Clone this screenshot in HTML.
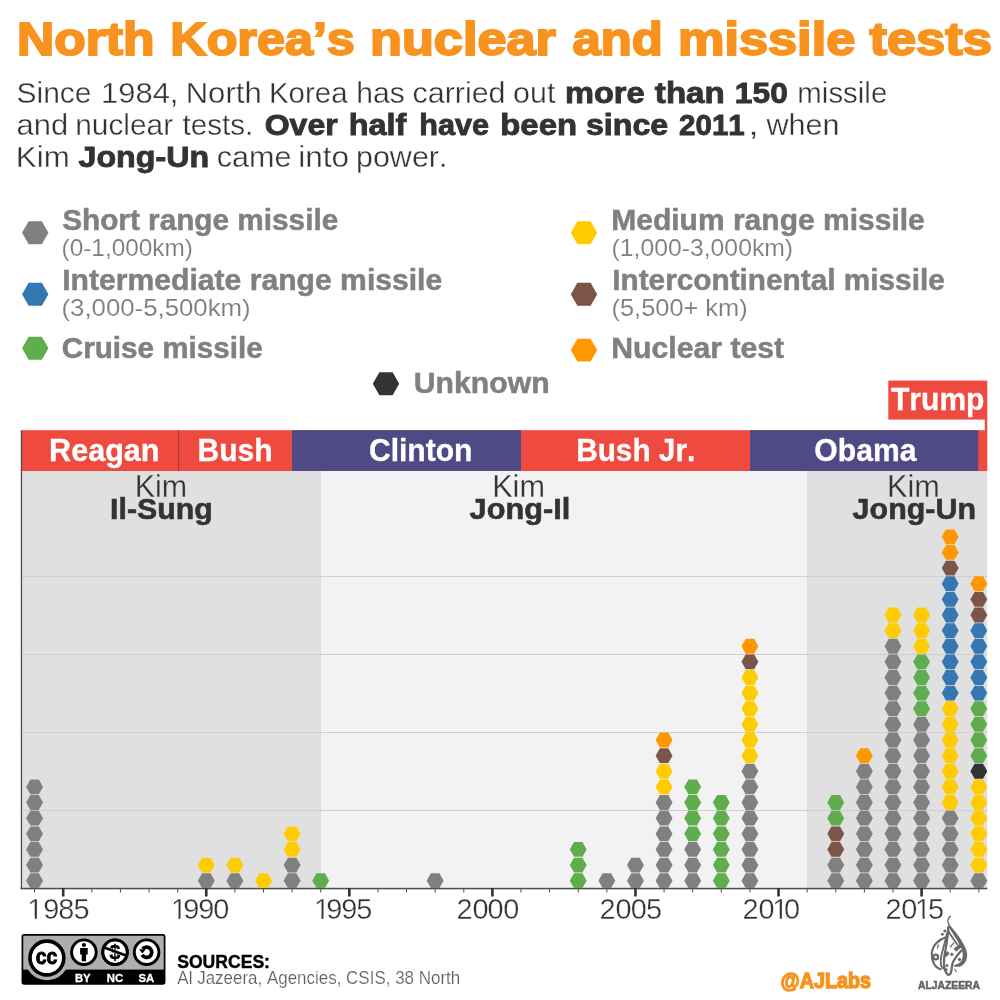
<!DOCTYPE html>
<html lang="en"><head><meta charset="utf-8"><title>North Korea's nuclear and missile tests</title>
<style>
html,body{margin:0;padding:0;background:#fff;}
body{width:1000px;height:1000px;overflow:hidden;}
svg{display:block;font-family:"Liberation Sans",Arial,Helvetica,sans-serif;font-kerning:none;}
text{white-space:pre;}
</style></head><body>
<svg width="1000" height="1000" viewBox="0 0 1000 1000">
<rect width="1000" height="1000" fill="#fff"/>

<text y="55.00" font-size="46.8" fill="#f7931e"><tspan x="16.95" font-weight="bold" stroke="#f7931e" stroke-width="2" textLength="137.55" lengthAdjust="spacingAndGlyphs">North</tspan> <tspan x="170.34" font-weight="bold" stroke="#f7931e" stroke-width="2" textLength="184.53" lengthAdjust="spacingAndGlyphs">Korea’s</tspan> <tspan x="370.06" font-weight="bold" stroke="#f7931e" stroke-width="2" textLength="185.83" lengthAdjust="spacingAndGlyphs">nuclear</tspan> <tspan x="572.61" font-weight="bold" stroke="#f7931e" stroke-width="2" textLength="90.23" lengthAdjust="spacingAndGlyphs">and</tspan> <tspan x="677.95" font-weight="bold" stroke="#f7931e" stroke-width="2" textLength="177.33" lengthAdjust="spacingAndGlyphs">missile</tspan> <tspan x="869.46" font-weight="bold" stroke="#f7931e" stroke-width="2" textLength="122.49" lengthAdjust="spacingAndGlyphs">tests</tspan></text>
<text y="103.00" font-size="30.3" fill="#333333"><tspan x="16.46" stroke="#ffffff" stroke-width="0.35" textLength="75.05" lengthAdjust="spacingAndGlyphs">Since</tspan> <tspan x="100.97" stroke="#ffffff" stroke-width="0.35" textLength="77.49" lengthAdjust="spacingAndGlyphs">1984,</tspan> <tspan x="185.67" stroke="#ffffff" stroke-width="0.35" textLength="76.02" lengthAdjust="spacingAndGlyphs">North</tspan> <tspan x="268.91" stroke="#ffffff" stroke-width="0.35" textLength="78.67" lengthAdjust="spacingAndGlyphs">Korea</tspan> <tspan x="356.24" stroke="#ffffff" stroke-width="0.35" textLength="48.52" lengthAdjust="spacingAndGlyphs">has</tspan> <tspan x="412.53" stroke="#ffffff" stroke-width="0.35" textLength="93.00" lengthAdjust="spacingAndGlyphs">carried</tspan> <tspan x="513.05" stroke="#ffffff" stroke-width="0.35" textLength="42.35" lengthAdjust="spacingAndGlyphs">out</tspan> <tspan x="565.00" font-weight="bold" stroke="#333333" stroke-width="0.9" textLength="79.66" lengthAdjust="spacingAndGlyphs">more</tspan> <tspan x="654.85" font-weight="bold" stroke="#333333" stroke-width="0.9" textLength="69.96" lengthAdjust="spacingAndGlyphs">than</tspan> <tspan x="734.85" font-weight="bold" stroke="#333333" stroke-width="0.9" textLength="53.00" lengthAdjust="spacingAndGlyphs">150</tspan> <tspan x="797.37" stroke="#ffffff" stroke-width="0.35" textLength="89.91" lengthAdjust="spacingAndGlyphs">missile</tspan></text>
<text y="135.00" font-size="30.3" fill="#333333"><tspan x="16.51" stroke="#ffffff" stroke-width="0.35" textLength="51.66" lengthAdjust="spacingAndGlyphs">and</tspan> <tspan x="75.24" stroke="#ffffff" stroke-width="0.35" textLength="97.93" lengthAdjust="spacingAndGlyphs">nuclear</tspan> <tspan x="182.38" stroke="#ffffff" stroke-width="0.35" textLength="71.01" lengthAdjust="spacingAndGlyphs">tests.</tspan> <tspan x="264.74" font-weight="bold" stroke="#333333" stroke-width="0.9" textLength="72.90" lengthAdjust="spacingAndGlyphs">Over</tspan> <tspan x="348.68" font-weight="bold" stroke="#333333" stroke-width="0.9" textLength="57.70" lengthAdjust="spacingAndGlyphs">half</tspan> <tspan x="419.31" font-weight="bold" stroke="#333333" stroke-width="0.9" textLength="69.78" lengthAdjust="spacingAndGlyphs">have</tspan> <tspan x="500.28" font-weight="bold" stroke="#333333" stroke-width="0.9" textLength="76.81" lengthAdjust="spacingAndGlyphs">been</tspan> <tspan x="585.92" font-weight="bold" stroke="#333333" stroke-width="0.9" textLength="82.33" lengthAdjust="spacingAndGlyphs">since</tspan> <tspan x="679.03" font-weight="bold" stroke="#333333" stroke-width="0.9" textLength="65.75" lengthAdjust="spacingAndGlyphs">2011</tspan> <tspan x="748.19" stroke="#ffffff" stroke-width="0.35" textLength="10.62" lengthAdjust="spacingAndGlyphs">,</tspan> <tspan x="766.47" stroke="#ffffff" stroke-width="0.35" textLength="73.09" lengthAdjust="spacingAndGlyphs">when</tspan></text>
<text y="167.00" font-size="30.3" fill="#333333"><tspan x="15.86" stroke="#ffffff" stroke-width="0.35" textLength="53.88" lengthAdjust="spacingAndGlyphs">Kim</tspan> <tspan x="78.56" font-weight="bold" stroke="#333333" stroke-width="0.9" textLength="130.58" lengthAdjust="spacingAndGlyphs">Jong-Un</tspan> <tspan x="216.73" stroke="#ffffff" stroke-width="0.35" textLength="74.71" lengthAdjust="spacingAndGlyphs">came</tspan> <tspan x="298.21" stroke="#ffffff" stroke-width="0.35" textLength="50.89" lengthAdjust="spacingAndGlyphs">into</tspan> <tspan x="355.96" stroke="#ffffff" stroke-width="0.35" textLength="91.50" lengthAdjust="spacingAndGlyphs">power.</tspan></text>
<polygon points="22.05,232.75 28.65,221.32 41.85,221.32 48.45,232.75 41.85,244.18 28.65,244.18" fill="#808080"/>
<polygon points="22.05,294.25 28.65,282.82 41.85,282.82 48.45,294.25 41.85,305.68 28.65,305.68" fill="#3577b0"/>
<polygon points="22.05,348.25 28.65,336.82 41.85,336.82 48.45,348.25 41.85,359.68 28.65,359.68" fill="#5fad4e"/>
<polygon points="372.80,383.75 379.40,372.32 392.60,372.32 399.20,383.75 392.60,395.18 379.40,395.18" fill="#333333"/>
<polygon points="570.80,232.75 577.40,221.32 590.60,221.32 597.20,232.75 590.60,244.18 577.40,244.18" fill="#ffcc00"/>
<polygon points="570.80,294.25 577.40,282.82 590.60,282.82 597.20,294.25 590.60,305.68 577.40,305.68" fill="#7a5548"/>
<polygon points="570.80,350.10 577.40,338.67 590.60,338.67 597.20,350.10 590.60,361.53 577.40,361.53" fill="#ff9800"/>
<text x="62.14" y="229.70" font-size="29.8" font-weight="bold" fill="#808080" stroke="#808080" stroke-width="0.5" stroke-linejoin="miter" textLength="276.12" lengthAdjust="spacingAndGlyphs">Short range missile</text>
<text x="61.63" y="255.50" font-size="23.6" fill="#7e7e7e" stroke="#ffffff" stroke-width="0.12" textLength="131.14" lengthAdjust="spacingAndGlyphs">(0-1,000km)</text>
<text x="62.23" y="290.40" font-size="29.8" font-weight="bold" fill="#808080" stroke="#808080" stroke-width="0.5" stroke-linejoin="miter" textLength="380.04" lengthAdjust="spacingAndGlyphs">Intermediate range missile</text>
<text x="61.54" y="315.75" font-size="23.6" fill="#7e7e7e" stroke="#ffffff" stroke-width="0.12" textLength="189.12" lengthAdjust="spacingAndGlyphs">(3,000-5,500km)</text>
<text x="61.78" y="357.80" font-size="29.8" font-weight="bold" fill="#808080" stroke="#808080" stroke-width="0.5" stroke-linejoin="miter" textLength="200.98" lengthAdjust="spacingAndGlyphs">Cruise missile</text>
<text x="413.74" y="393.40" font-size="29.8" font-weight="bold" fill="#808080" stroke="#808080" stroke-width="0.5" stroke-linejoin="miter" textLength="135.89" lengthAdjust="spacingAndGlyphs">Unknown</text>
<text x="611.24" y="229.70" font-size="29.8" font-weight="bold" fill="#808080" stroke="#808080" stroke-width="0.5" stroke-linejoin="miter" textLength="313.53" lengthAdjust="spacingAndGlyphs">Medium range missile</text>
<text x="611.61" y="255.50" font-size="23.6" fill="#7e7e7e" stroke="#ffffff" stroke-width="0.12" textLength="181.49" lengthAdjust="spacingAndGlyphs">(1,000-3,000km)</text>
<text x="612.26" y="290.40" font-size="29.8" font-weight="bold" fill="#808080" stroke="#808080" stroke-width="0.5" stroke-linejoin="miter" textLength="332.51" lengthAdjust="spacingAndGlyphs">Intercontinental missile</text>
<text x="611.57" y="315.75" font-size="23.6" fill="#7e7e7e" stroke="#ffffff" stroke-width="0.12" textLength="136.07" lengthAdjust="spacingAndGlyphs">(5,500+ km)</text>
<text x="611.23" y="357.80" font-size="29.8" font-weight="bold" fill="#808080" stroke="#808080" stroke-width="0.5" stroke-linejoin="miter" textLength="172.89" lengthAdjust="spacingAndGlyphs">Nuclear test</text>
<rect x="21.5" y="471" width="965.8" height="417.5" fill="#e0e0e0"/>
<rect x="321" y="471" width="486" height="417.5" fill="#f2f2f2"/>
<rect x="21.5" y="576" width="965.8" height="1" fill="#cecece"/>
<rect x="21.5" y="654" width="965.8" height="1" fill="#cecece"/>
<rect x="21.5" y="732" width="965.8" height="1" fill="#cecece"/>
<rect x="21.5" y="810" width="965.8" height="1" fill="#cecece"/>
<rect x="21.5" y="430.2" width="965.8" height="40.8" fill="#ef4a40"/>
<rect x="292" y="430.2" width="229" height="40.8" fill="#4f4a85"/>
<rect x="750" y="430.2" width="228.2" height="40.8" fill="#4f4a85"/>
<rect x="178.1" y="430.2" width="1" height="41" fill="#b0362f"/>
<text x="49.10" y="460.60" font-size="31" font-weight="bold" fill="#ffffff" stroke="#ffffff" stroke-width="0.3" stroke-linejoin="miter" textLength="110.44" lengthAdjust="spacingAndGlyphs">Reagan</text>
<text x="197.54" y="460.60" font-size="31" font-weight="bold" fill="#ffffff" stroke="#ffffff" stroke-width="0.3" stroke-linejoin="miter" textLength="74.97" lengthAdjust="spacingAndGlyphs">Bush</text>
<text x="368.92" y="460.60" font-size="31" font-weight="bold" fill="#ffffff" stroke="#ffffff" stroke-width="0.3" stroke-linejoin="miter" textLength="103.60" lengthAdjust="spacingAndGlyphs">Clinton</text>
<text x="576.16" y="460.60" font-size="31" font-weight="bold" fill="#ffffff" stroke="#ffffff" stroke-width="0.3" stroke-linejoin="miter" textLength="119.14" lengthAdjust="spacingAndGlyphs">Bush Jr.</text>
<text x="814.31" y="460.60" font-size="31" font-weight="bold" fill="#ffffff" stroke="#ffffff" stroke-width="0.3" stroke-linejoin="miter" textLength="102.14" lengthAdjust="spacingAndGlyphs">Obama</text>
<rect x="888.3" y="380.6" width="99" height="39" fill="#ef4a40"/>
<rect x="984.8" y="419" width="2.5" height="12" fill="#ef4a40"/>
<text x="891.01" y="410.00" font-size="31" font-weight="bold" fill="#ffffff" stroke="#ffffff" stroke-width="0.3" stroke-linejoin="miter" textLength="93.47" lengthAdjust="spacingAndGlyphs">Trump</text>
<text x="134.75" y="496.80" font-size="31" fill="#333333" stroke="#e0e0e0" stroke-width="0.3" textLength="52.40" lengthAdjust="spacingAndGlyphs">Kim</text>
<text x="110.07" y="519.30" font-size="30" font-weight="bold" fill="#333333" stroke="#333333" stroke-width="0.6" stroke-linejoin="miter" textLength="102.65" lengthAdjust="spacingAndGlyphs">Il-Sung</text>
<text x="492.13" y="496.80" font-size="31" fill="#333333" stroke="#f2f2f2" stroke-width="0.3" textLength="52.84" lengthAdjust="spacingAndGlyphs">Kim</text>
<text x="469.64" y="519.30" font-size="30" font-weight="bold" fill="#333333" stroke="#333333" stroke-width="0.6" stroke-linejoin="miter" textLength="100.64" lengthAdjust="spacingAndGlyphs">Jong-Il</text>
<text x="886.93" y="496.80" font-size="31" fill="#333333" stroke="#e0e0e0" stroke-width="0.3" textLength="52.84" lengthAdjust="spacingAndGlyphs">Kim</text>
<text x="852.64" y="519.30" font-size="30" font-weight="bold" fill="#333333" stroke="#333333" stroke-width="0.6" stroke-linejoin="miter" textLength="123.35" lengthAdjust="spacingAndGlyphs">Jong-Un</text>
<rect x="20.8" y="430.3" width="1.3" height="459" fill="#4d4d4d"/>
<rect x="20.7" y="887.8" width="966.6" height="1.5" fill="#4d4d4d"/>
<rect x="34.09" y="888" width="1" height="4.5" fill="#4d4d4d"/>
<rect x="61.90" y="888" width="2.6" height="8.5" fill="#333"/>
<rect x="91.32" y="888" width="1" height="4.5" fill="#4d4d4d"/>
<rect x="119.93" y="888" width="1" height="4.5" fill="#4d4d4d"/>
<rect x="148.54" y="888" width="1" height="4.5" fill="#4d4d4d"/>
<rect x="177.16" y="888" width="1" height="4.5" fill="#4d4d4d"/>
<rect x="204.97" y="888" width="2.6" height="8.5" fill="#333"/>
<rect x="234.38" y="888" width="1" height="4.5" fill="#4d4d4d"/>
<rect x="262.99" y="888" width="1" height="4.5" fill="#4d4d4d"/>
<rect x="291.61" y="888" width="1" height="4.5" fill="#4d4d4d"/>
<rect x="320.22" y="888" width="1" height="4.5" fill="#4d4d4d"/>
<rect x="348.03" y="888" width="2.6" height="8.5" fill="#333"/>
<rect x="377.45" y="888" width="1" height="4.5" fill="#4d4d4d"/>
<rect x="406.06" y="888" width="1" height="4.5" fill="#4d4d4d"/>
<rect x="434.67" y="888" width="1" height="4.5" fill="#4d4d4d"/>
<rect x="463.28" y="888" width="1" height="4.5" fill="#4d4d4d"/>
<rect x="491.10" y="888" width="2.6" height="8.5" fill="#333"/>
<rect x="520.51" y="888" width="1" height="4.5" fill="#4d4d4d"/>
<rect x="549.12" y="888" width="1" height="4.5" fill="#4d4d4d"/>
<rect x="577.74" y="888" width="1" height="4.5" fill="#4d4d4d"/>
<rect x="606.35" y="888" width="1" height="4.5" fill="#4d4d4d"/>
<rect x="634.16" y="888" width="2.6" height="8.5" fill="#333"/>
<rect x="663.58" y="888" width="1" height="4.5" fill="#4d4d4d"/>
<rect x="692.19" y="888" width="1" height="4.5" fill="#4d4d4d"/>
<rect x="720.80" y="888" width="1" height="4.5" fill="#4d4d4d"/>
<rect x="749.42" y="888" width="1" height="4.5" fill="#4d4d4d"/>
<rect x="777.23" y="888" width="2.6" height="8.5" fill="#333"/>
<rect x="806.64" y="888" width="1" height="4.5" fill="#4d4d4d"/>
<rect x="835.25" y="888" width="1" height="4.5" fill="#4d4d4d"/>
<rect x="863.87" y="888" width="1" height="4.5" fill="#4d4d4d"/>
<rect x="892.48" y="888" width="1" height="4.5" fill="#4d4d4d"/>
<rect x="920.29" y="888" width="2.6" height="8.5" fill="#333"/>
<rect x="949.71" y="888" width="1" height="4.5" fill="#4d4d4d"/>
<rect x="978.32" y="888" width="1" height="4.5" fill="#4d4d4d"/>
<text x="27.3 43.3 58.2 73.5" y="918.8" font-size="28.9" fill="#333" stroke="#fff" stroke-width="0.35">1985</text>
<rect x="28.88" y="916.2" width="5.87" height="3.4" fill="#fff"/>
<rect x="36.90" y="916.2" width="5.64" height="3.4" fill="#fff"/>
<text x="170.9 183.2 198.2 213.2" y="918.8" font-size="28.9" fill="#333" stroke="#fff" stroke-width="0.35">1990</text>
<rect x="172.48" y="916.2" width="5.87" height="3.4" fill="#fff"/>
<rect x="180.50" y="916.2" width="5.30" height="3.4" fill="#fff"/>
<text x="313.9 326.2 341.2 356.2" y="918.8" font-size="28.9" fill="#333" stroke="#fff" stroke-width="0.35">1995</text>
<rect x="315.48" y="916.2" width="5.87" height="3.4" fill="#fff"/>
<rect x="323.50" y="916.2" width="5.30" height="3.4" fill="#fff"/>
<text x="456.4 472.5 487.6 503.2" y="918.8" font-size="28.9" fill="#333" stroke="#fff" stroke-width="0.35">2000</text>
<text x="599.4 615.5 630.8 646.0" y="918.8" font-size="28.9" fill="#333" stroke="#fff" stroke-width="0.35">2005</text>
<text x="742.5 758.5 772.3 783.9" y="918.8" font-size="28.9" fill="#333" stroke="#fff" stroke-width="0.35">2010</text>
<rect x="773.88" y="916.2" width="5.87" height="3.4" fill="#fff"/>
<rect x="781.90" y="916.2" width="4.70" height="3.4" fill="#fff"/>
<text x="885.4 901.3 915.1 928.0" y="918.8" font-size="28.9" fill="#333" stroke="#fff" stroke-width="0.35">2015</text>
<rect x="916.68" y="916.2" width="5.87" height="3.4" fill="#fff"/>
<rect x="924.70" y="916.2" width="5.64" height="3.4" fill="#fff"/>
<polygon points="26.14,880.68 30.37,873.26 38.82,873.26 43.04,880.68 38.82,888.10 30.37,888.10" fill="#808080"/>
<polygon points="26.14,865.05 30.37,857.63 38.82,857.63 43.04,865.05 38.82,872.47 30.37,872.47" fill="#808080"/>
<polygon points="26.14,849.42 30.37,842.00 38.82,842.00 43.04,849.42 38.82,856.84 30.37,856.84" fill="#808080"/>
<polygon points="26.14,833.79 30.37,826.38 38.82,826.38 43.04,833.79 38.82,841.21 30.37,841.21" fill="#808080"/>
<polygon points="26.14,818.16 30.37,810.75 38.82,810.75 43.04,818.16 38.82,825.58 30.37,825.58" fill="#808080"/>
<polygon points="26.14,802.53 30.37,795.12 38.82,795.12 43.04,802.53 38.82,809.95 30.37,809.95" fill="#808080"/>
<polygon points="26.14,786.90 30.37,779.49 38.82,779.49 43.04,786.90 38.82,794.32 30.37,794.32" fill="#808080"/>
<polygon points="197.82,880.68 202.04,873.26 210.49,873.26 214.72,880.68 210.49,888.10 202.04,888.10" fill="#808080"/>
<polygon points="197.82,865.05 202.04,857.63 210.49,857.63 214.72,865.05 210.49,872.47 202.04,872.47" fill="#ffcc00"/>
<polygon points="226.43,880.68 230.66,873.26 239.11,873.26 243.33,880.68 239.11,888.10 230.66,888.10" fill="#808080"/>
<polygon points="226.43,865.05 230.66,857.63 239.11,857.63 243.33,865.05 239.11,872.47 230.66,872.47" fill="#ffcc00"/>
<polygon points="255.04,880.68 259.27,873.26 267.72,873.26 271.94,880.68 267.72,888.10 259.27,888.10" fill="#ffcc00"/>
<polygon points="283.66,880.68 287.88,873.26 296.33,873.26 300.56,880.68 296.33,888.10 287.88,888.10" fill="#808080"/>
<polygon points="283.66,865.05 287.88,857.63 296.33,857.63 300.56,865.05 296.33,872.47 287.88,872.47" fill="#808080"/>
<polygon points="283.66,849.42 287.88,842.00 296.33,842.00 300.56,849.42 296.33,856.84 287.88,856.84" fill="#ffcc00"/>
<polygon points="283.66,833.79 287.88,826.38 296.33,826.38 300.56,833.79 296.33,841.21 287.88,841.21" fill="#ffcc00"/>
<polygon points="312.27,880.68 316.50,873.26 324.95,873.26 329.17,880.68 324.95,888.10 316.50,888.10" fill="#5fad4e"/>
<polygon points="426.72,880.68 430.95,873.26 439.40,873.26 443.62,880.68 439.40,888.10 430.95,888.10" fill="#808080"/>
<polygon points="569.79,880.68 574.01,873.26 582.46,873.26 586.69,880.68 582.46,888.10 574.01,888.10" fill="#5fad4e"/>
<polygon points="569.79,865.05 574.01,857.63 582.46,857.63 586.69,865.05 582.46,872.47 574.01,872.47" fill="#5fad4e"/>
<polygon points="569.79,849.42 574.01,842.00 582.46,842.00 586.69,849.42 582.46,856.84 574.01,856.84" fill="#5fad4e"/>
<polygon points="598.40,880.68 602.62,873.26 611.08,873.26 615.30,880.68 611.08,888.10 602.62,888.10" fill="#808080"/>
<polygon points="627.01,880.68 631.24,873.26 639.69,873.26 643.91,880.68 639.69,888.10 631.24,888.10" fill="#808080"/>
<polygon points="627.01,865.05 631.24,857.63 639.69,857.63 643.91,865.05 639.69,872.47 631.24,872.47" fill="#808080"/>
<polygon points="655.63,880.68 659.85,873.26 668.30,873.26 672.53,880.68 668.30,888.10 659.85,888.10" fill="#808080"/>
<polygon points="655.63,865.05 659.85,857.63 668.30,857.63 672.53,865.05 668.30,872.47 659.85,872.47" fill="#808080"/>
<polygon points="655.63,849.42 659.85,842.00 668.30,842.00 672.53,849.42 668.30,856.84 659.85,856.84" fill="#808080"/>
<polygon points="655.63,833.79 659.85,826.38 668.30,826.38 672.53,833.79 668.30,841.21 659.85,841.21" fill="#808080"/>
<polygon points="655.63,818.16 659.85,810.75 668.30,810.75 672.53,818.16 668.30,825.58 659.85,825.58" fill="#808080"/>
<polygon points="655.63,802.53 659.85,795.12 668.30,795.12 672.53,802.53 668.30,809.95 659.85,809.95" fill="#808080"/>
<polygon points="655.63,786.90 659.85,779.49 668.30,779.49 672.53,786.90 668.30,794.32 659.85,794.32" fill="#ffcc00"/>
<polygon points="655.63,771.27 659.85,763.86 668.30,763.86 672.53,771.27 668.30,778.69 659.85,778.69" fill="#ffcc00"/>
<polygon points="655.63,755.64 659.85,748.23 668.30,748.23 672.53,755.64 668.30,763.06 659.85,763.06" fill="#7a5548"/>
<polygon points="655.63,740.01 659.85,732.59 668.30,732.59 672.53,740.01 668.30,747.43 659.85,747.43" fill="#ff9800"/>
<polygon points="684.24,880.68 688.46,873.26 696.91,873.26 701.14,880.68 696.91,888.10 688.46,888.10" fill="#808080"/>
<polygon points="684.24,865.05 688.46,857.63 696.91,857.63 701.14,865.05 696.91,872.47 688.46,872.47" fill="#808080"/>
<polygon points="684.24,849.42 688.46,842.00 696.91,842.00 701.14,849.42 696.91,856.84 688.46,856.84" fill="#808080"/>
<polygon points="684.24,833.79 688.46,826.38 696.91,826.38 701.14,833.79 696.91,841.21 688.46,841.21" fill="#5fad4e"/>
<polygon points="684.24,818.16 688.46,810.75 696.91,810.75 701.14,818.16 696.91,825.58 688.46,825.58" fill="#5fad4e"/>
<polygon points="684.24,802.53 688.46,795.12 696.91,795.12 701.14,802.53 696.91,809.95 688.46,809.95" fill="#5fad4e"/>
<polygon points="684.24,786.90 688.46,779.49 696.91,779.49 701.14,786.90 696.91,794.32 688.46,794.32" fill="#5fad4e"/>
<polygon points="712.85,880.68 717.08,873.26 725.53,873.26 729.75,880.68 725.53,888.10 717.08,888.10" fill="#5fad4e"/>
<polygon points="712.85,865.05 717.08,857.63 725.53,857.63 729.75,865.05 725.53,872.47 717.08,872.47" fill="#5fad4e"/>
<polygon points="712.85,849.42 717.08,842.00 725.53,842.00 729.75,849.42 725.53,856.84 717.08,856.84" fill="#5fad4e"/>
<polygon points="712.85,833.79 717.08,826.38 725.53,826.38 729.75,833.79 725.53,841.21 717.08,841.21" fill="#5fad4e"/>
<polygon points="712.85,818.16 717.08,810.75 725.53,810.75 729.75,818.16 725.53,825.58 717.08,825.58" fill="#5fad4e"/>
<polygon points="712.85,802.53 717.08,795.12 725.53,795.12 729.75,802.53 725.53,809.95 717.08,809.95" fill="#5fad4e"/>
<polygon points="741.47,880.68 745.69,873.26 754.14,873.26 758.37,880.68 754.14,888.10 745.69,888.10" fill="#808080"/>
<polygon points="741.47,865.05 745.69,857.63 754.14,857.63 758.37,865.05 754.14,872.47 745.69,872.47" fill="#808080"/>
<polygon points="741.47,849.42 745.69,842.00 754.14,842.00 758.37,849.42 754.14,856.84 745.69,856.84" fill="#808080"/>
<polygon points="741.47,833.79 745.69,826.38 754.14,826.38 758.37,833.79 754.14,841.21 745.69,841.21" fill="#808080"/>
<polygon points="741.47,818.16 745.69,810.75 754.14,810.75 758.37,818.16 754.14,825.58 745.69,825.58" fill="#808080"/>
<polygon points="741.47,802.53 745.69,795.12 754.14,795.12 758.37,802.53 754.14,809.95 745.69,809.95" fill="#808080"/>
<polygon points="741.47,786.90 745.69,779.49 754.14,779.49 758.37,786.90 754.14,794.32 745.69,794.32" fill="#808080"/>
<polygon points="741.47,771.27 745.69,763.86 754.14,763.86 758.37,771.27 754.14,778.69 745.69,778.69" fill="#808080"/>
<polygon points="741.47,755.64 745.69,748.23 754.14,748.23 758.37,755.64 754.14,763.06 745.69,763.06" fill="#ffcc00"/>
<polygon points="741.47,740.01 745.69,732.59 754.14,732.59 758.37,740.01 754.14,747.43 745.69,747.43" fill="#ffcc00"/>
<polygon points="741.47,724.38 745.69,716.97 754.14,716.97 758.37,724.38 754.14,731.80 745.69,731.80" fill="#ffcc00"/>
<polygon points="741.47,708.75 745.69,701.33 754.14,701.33 758.37,708.75 754.14,716.17 745.69,716.17" fill="#ffcc00"/>
<polygon points="741.47,693.12 745.69,685.71 754.14,685.71 758.37,693.12 754.14,700.54 745.69,700.54" fill="#ffcc00"/>
<polygon points="741.47,677.49 745.69,670.07 754.14,670.07 758.37,677.49 754.14,684.91 745.69,684.91" fill="#ffcc00"/>
<polygon points="741.47,661.86 745.69,654.44 754.14,654.44 758.37,661.86 754.14,669.28 745.69,669.28" fill="#7a5548"/>
<polygon points="741.47,646.23 745.69,638.81 754.14,638.81 758.37,646.23 754.14,653.65 745.69,653.65" fill="#ff9800"/>
<polygon points="827.30,880.68 831.53,873.26 839.98,873.26 844.20,880.68 839.98,888.10 831.53,888.10" fill="#808080"/>
<polygon points="827.30,865.05 831.53,857.63 839.98,857.63 844.20,865.05 839.98,872.47 831.53,872.47" fill="#808080"/>
<polygon points="827.30,849.42 831.53,842.00 839.98,842.00 844.20,849.42 839.98,856.84 831.53,856.84" fill="#7a5548"/>
<polygon points="827.30,833.79 831.53,826.38 839.98,826.38 844.20,833.79 839.98,841.21 831.53,841.21" fill="#7a5548"/>
<polygon points="827.30,818.16 831.53,810.75 839.98,810.75 844.20,818.16 839.98,825.58 831.53,825.58" fill="#5fad4e"/>
<polygon points="827.30,802.53 831.53,795.12 839.98,795.12 844.20,802.53 839.98,809.95 831.53,809.95" fill="#5fad4e"/>
<polygon points="855.92,880.68 860.14,873.26 868.59,873.26 872.82,880.68 868.59,888.10 860.14,888.10" fill="#808080"/>
<polygon points="855.92,865.05 860.14,857.63 868.59,857.63 872.82,865.05 868.59,872.47 860.14,872.47" fill="#808080"/>
<polygon points="855.92,849.42 860.14,842.00 868.59,842.00 872.82,849.42 868.59,856.84 860.14,856.84" fill="#808080"/>
<polygon points="855.92,833.79 860.14,826.38 868.59,826.38 872.82,833.79 868.59,841.21 860.14,841.21" fill="#808080"/>
<polygon points="855.92,818.16 860.14,810.75 868.59,810.75 872.82,818.16 868.59,825.58 860.14,825.58" fill="#808080"/>
<polygon points="855.92,802.53 860.14,795.12 868.59,795.12 872.82,802.53 868.59,809.95 860.14,809.95" fill="#808080"/>
<polygon points="855.92,786.90 860.14,779.49 868.59,779.49 872.82,786.90 868.59,794.32 860.14,794.32" fill="#808080"/>
<polygon points="855.92,771.27 860.14,763.86 868.59,763.86 872.82,771.27 868.59,778.69 860.14,778.69" fill="#808080"/>
<polygon points="855.92,755.64 860.14,748.23 868.59,748.23 872.82,755.64 868.59,763.06 860.14,763.06" fill="#ff9800"/>
<polygon points="884.53,880.68 888.75,873.26 897.21,873.26 901.43,880.68 897.21,888.10 888.75,888.10" fill="#808080"/>
<polygon points="884.53,865.05 888.75,857.63 897.21,857.63 901.43,865.05 897.21,872.47 888.75,872.47" fill="#808080"/>
<polygon points="884.53,849.42 888.75,842.00 897.21,842.00 901.43,849.42 897.21,856.84 888.75,856.84" fill="#808080"/>
<polygon points="884.53,833.79 888.75,826.38 897.21,826.38 901.43,833.79 897.21,841.21 888.75,841.21" fill="#808080"/>
<polygon points="884.53,818.16 888.75,810.75 897.21,810.75 901.43,818.16 897.21,825.58 888.75,825.58" fill="#808080"/>
<polygon points="884.53,802.53 888.75,795.12 897.21,795.12 901.43,802.53 897.21,809.95 888.75,809.95" fill="#808080"/>
<polygon points="884.53,786.90 888.75,779.49 897.21,779.49 901.43,786.90 897.21,794.32 888.75,794.32" fill="#808080"/>
<polygon points="884.53,771.27 888.75,763.86 897.21,763.86 901.43,771.27 897.21,778.69 888.75,778.69" fill="#808080"/>
<polygon points="884.53,755.64 888.75,748.23 897.21,748.23 901.43,755.64 897.21,763.06 888.75,763.06" fill="#808080"/>
<polygon points="884.53,740.01 888.75,732.59 897.21,732.59 901.43,740.01 897.21,747.43 888.75,747.43" fill="#808080"/>
<polygon points="884.53,724.38 888.75,716.97 897.21,716.97 901.43,724.38 897.21,731.80 888.75,731.80" fill="#808080"/>
<polygon points="884.53,708.75 888.75,701.33 897.21,701.33 901.43,708.75 897.21,716.17 888.75,716.17" fill="#808080"/>
<polygon points="884.53,693.12 888.75,685.71 897.21,685.71 901.43,693.12 897.21,700.54 888.75,700.54" fill="#808080"/>
<polygon points="884.53,677.49 888.75,670.07 897.21,670.07 901.43,677.49 897.21,684.91 888.75,684.91" fill="#808080"/>
<polygon points="884.53,661.86 888.75,654.44 897.21,654.44 901.43,661.86 897.21,669.28 888.75,669.28" fill="#808080"/>
<polygon points="884.53,646.23 888.75,638.81 897.21,638.81 901.43,646.23 897.21,653.65 888.75,653.65" fill="#808080"/>
<polygon points="884.53,630.60 888.75,623.18 897.21,623.18 901.43,630.60 897.21,638.02 888.75,638.02" fill="#ffcc00"/>
<polygon points="884.53,614.97 888.75,607.55 897.21,607.55 901.43,614.97 897.21,622.39 888.75,622.39" fill="#ffcc00"/>
<polygon points="913.14,880.68 917.37,873.26 925.82,873.26 930.04,880.68 925.82,888.10 917.37,888.10" fill="#808080"/>
<polygon points="913.14,865.05 917.37,857.63 925.82,857.63 930.04,865.05 925.82,872.47 917.37,872.47" fill="#808080"/>
<polygon points="913.14,849.42 917.37,842.00 925.82,842.00 930.04,849.42 925.82,856.84 917.37,856.84" fill="#808080"/>
<polygon points="913.14,833.79 917.37,826.38 925.82,826.38 930.04,833.79 925.82,841.21 917.37,841.21" fill="#808080"/>
<polygon points="913.14,818.16 917.37,810.75 925.82,810.75 930.04,818.16 925.82,825.58 917.37,825.58" fill="#808080"/>
<polygon points="913.14,802.53 917.37,795.12 925.82,795.12 930.04,802.53 925.82,809.95 917.37,809.95" fill="#808080"/>
<polygon points="913.14,786.90 917.37,779.49 925.82,779.49 930.04,786.90 925.82,794.32 917.37,794.32" fill="#808080"/>
<polygon points="913.14,771.27 917.37,763.86 925.82,763.86 930.04,771.27 925.82,778.69 917.37,778.69" fill="#808080"/>
<polygon points="913.14,755.64 917.37,748.23 925.82,748.23 930.04,755.64 925.82,763.06 917.37,763.06" fill="#808080"/>
<polygon points="913.14,740.01 917.37,732.59 925.82,732.59 930.04,740.01 925.82,747.43 917.37,747.43" fill="#808080"/>
<polygon points="913.14,724.38 917.37,716.97 925.82,716.97 930.04,724.38 925.82,731.80 917.37,731.80" fill="#808080"/>
<polygon points="913.14,708.75 917.37,701.33 925.82,701.33 930.04,708.75 925.82,716.17 917.37,716.17" fill="#5fad4e"/>
<polygon points="913.14,693.12 917.37,685.71 925.82,685.71 930.04,693.12 925.82,700.54 917.37,700.54" fill="#5fad4e"/>
<polygon points="913.14,677.49 917.37,670.07 925.82,670.07 930.04,677.49 925.82,684.91 917.37,684.91" fill="#5fad4e"/>
<polygon points="913.14,661.86 917.37,654.44 925.82,654.44 930.04,661.86 925.82,669.28 917.37,669.28" fill="#5fad4e"/>
<polygon points="913.14,646.23 917.37,638.81 925.82,638.81 930.04,646.23 925.82,653.65 917.37,653.65" fill="#ffcc00"/>
<polygon points="913.14,630.60 917.37,623.18 925.82,623.18 930.04,630.60 925.82,638.02 917.37,638.02" fill="#ffcc00"/>
<polygon points="913.14,614.97 917.37,607.55 925.82,607.55 930.04,614.97 925.82,622.39 917.37,622.39" fill="#ffcc00"/>
<polygon points="941.76,880.68 945.98,873.26 954.43,873.26 958.66,880.68 954.43,888.10 945.98,888.10" fill="#808080"/>
<polygon points="941.76,865.05 945.98,857.63 954.43,857.63 958.66,865.05 954.43,872.47 945.98,872.47" fill="#808080"/>
<polygon points="941.76,849.42 945.98,842.00 954.43,842.00 958.66,849.42 954.43,856.84 945.98,856.84" fill="#808080"/>
<polygon points="941.76,833.79 945.98,826.38 954.43,826.38 958.66,833.79 954.43,841.21 945.98,841.21" fill="#808080"/>
<polygon points="941.76,818.16 945.98,810.75 954.43,810.75 958.66,818.16 954.43,825.58 945.98,825.58" fill="#808080"/>
<polygon points="941.76,802.53 945.98,795.12 954.43,795.12 958.66,802.53 954.43,809.95 945.98,809.95" fill="#ffcc00"/>
<polygon points="941.76,786.90 945.98,779.49 954.43,779.49 958.66,786.90 954.43,794.32 945.98,794.32" fill="#ffcc00"/>
<polygon points="941.76,771.27 945.98,763.86 954.43,763.86 958.66,771.27 954.43,778.69 945.98,778.69" fill="#ffcc00"/>
<polygon points="941.76,755.64 945.98,748.23 954.43,748.23 958.66,755.64 954.43,763.06 945.98,763.06" fill="#ffcc00"/>
<polygon points="941.76,740.01 945.98,732.59 954.43,732.59 958.66,740.01 954.43,747.43 945.98,747.43" fill="#ffcc00"/>
<polygon points="941.76,724.38 945.98,716.97 954.43,716.97 958.66,724.38 954.43,731.80 945.98,731.80" fill="#ffcc00"/>
<polygon points="941.76,708.75 945.98,701.33 954.43,701.33 958.66,708.75 954.43,716.17 945.98,716.17" fill="#ffcc00"/>
<polygon points="941.76,693.12 945.98,685.71 954.43,685.71 958.66,693.12 954.43,700.54 945.98,700.54" fill="#3577b0"/>
<polygon points="941.76,677.49 945.98,670.07 954.43,670.07 958.66,677.49 954.43,684.91 945.98,684.91" fill="#3577b0"/>
<polygon points="941.76,661.86 945.98,654.44 954.43,654.44 958.66,661.86 954.43,669.28 945.98,669.28" fill="#3577b0"/>
<polygon points="941.76,646.23 945.98,638.81 954.43,638.81 958.66,646.23 954.43,653.65 945.98,653.65" fill="#3577b0"/>
<polygon points="941.76,630.60 945.98,623.18 954.43,623.18 958.66,630.60 954.43,638.02 945.98,638.02" fill="#3577b0"/>
<polygon points="941.76,614.97 945.98,607.55 954.43,607.55 958.66,614.97 954.43,622.39 945.98,622.39" fill="#3577b0"/>
<polygon points="941.76,599.34 945.98,591.92 954.43,591.92 958.66,599.34 954.43,606.76 945.98,606.76" fill="#3577b0"/>
<polygon points="941.76,583.71 945.98,576.29 954.43,576.29 958.66,583.71 954.43,591.13 945.98,591.13" fill="#3577b0"/>
<polygon points="941.76,568.08 945.98,560.66 954.43,560.66 958.66,568.08 954.43,575.50 945.98,575.50" fill="#7a5548"/>
<polygon points="941.76,552.45 945.98,545.03 954.43,545.03 958.66,552.45 954.43,559.87 945.98,559.87" fill="#ff9800"/>
<polygon points="941.76,536.82 945.98,529.40 954.43,529.40 958.66,536.82 954.43,544.24 945.98,544.24" fill="#ff9800"/>
<polygon points="970.37,880.68 974.59,873.26 983.04,873.26 987.27,880.68 983.04,888.10 974.59,888.10" fill="#808080"/>
<polygon points="970.37,865.05 974.59,857.63 983.04,857.63 987.27,865.05 983.04,872.47 974.59,872.47" fill="#ffcc00"/>
<polygon points="970.37,849.42 974.59,842.00 983.04,842.00 987.27,849.42 983.04,856.84 974.59,856.84" fill="#ffcc00"/>
<polygon points="970.37,833.79 974.59,826.38 983.04,826.38 987.27,833.79 983.04,841.21 974.59,841.21" fill="#ffcc00"/>
<polygon points="970.37,818.16 974.59,810.75 983.04,810.75 987.27,818.16 983.04,825.58 974.59,825.58" fill="#ffcc00"/>
<polygon points="970.37,802.53 974.59,795.12 983.04,795.12 987.27,802.53 983.04,809.95 974.59,809.95" fill="#ffcc00"/>
<polygon points="970.37,786.90 974.59,779.49 983.04,779.49 987.27,786.90 983.04,794.32 974.59,794.32" fill="#ffcc00"/>
<polygon points="970.37,771.27 974.59,763.86 983.04,763.86 987.27,771.27 983.04,778.69 974.59,778.69" fill="#333333"/>
<polygon points="970.37,755.64 974.59,748.23 983.04,748.23 987.27,755.64 983.04,763.06 974.59,763.06" fill="#5fad4e"/>
<polygon points="970.37,740.01 974.59,732.59 983.04,732.59 987.27,740.01 983.04,747.43 974.59,747.43" fill="#5fad4e"/>
<polygon points="970.37,724.38 974.59,716.97 983.04,716.97 987.27,724.38 983.04,731.80 974.59,731.80" fill="#5fad4e"/>
<polygon points="970.37,708.75 974.59,701.33 983.04,701.33 987.27,708.75 983.04,716.17 974.59,716.17" fill="#5fad4e"/>
<polygon points="970.37,693.12 974.59,685.71 983.04,685.71 987.27,693.12 983.04,700.54 974.59,700.54" fill="#3577b0"/>
<polygon points="970.37,677.49 974.59,670.07 983.04,670.07 987.27,677.49 983.04,684.91 974.59,684.91" fill="#3577b0"/>
<polygon points="970.37,661.86 974.59,654.44 983.04,654.44 987.27,661.86 983.04,669.28 974.59,669.28" fill="#3577b0"/>
<polygon points="970.37,646.23 974.59,638.81 983.04,638.81 987.27,646.23 983.04,653.65 974.59,653.65" fill="#3577b0"/>
<polygon points="970.37,630.60 974.59,623.18 983.04,623.18 987.27,630.60 983.04,638.02 974.59,638.02" fill="#3577b0"/>
<polygon points="970.37,614.97 974.59,607.55 983.04,607.55 987.27,614.97 983.04,622.39 974.59,622.39" fill="#7a5548"/>
<polygon points="970.37,599.34 974.59,591.92 983.04,591.92 987.27,599.34 983.04,606.76 974.59,606.76" fill="#7a5548"/>
<polygon points="970.37,583.71 974.59,576.29 983.04,576.29 987.27,583.71 983.04,591.13 974.59,591.13" fill="#ff9800"/>
<g>
<rect x="22.4" y="934.9" width="142.2" height="48.9" rx="1.8" fill="#abb1aa" stroke="#000" stroke-width="1.7"/>
<rect x="22.4" y="969.6" width="142.2" height="14.2" fill="#000"/>
<clipPath id="ccclip"><rect x="23" y="935.5" width="141" height="47.5"/></clipPath>
<circle cx="46.9" cy="958" r="22.2" fill="#abb1aa" clip-path="url(#ccclip)"/>
<circle cx="46.9" cy="958" r="16.9" fill="#fff" stroke="#000" stroke-width="3.6"/>
<text x="35.69" y="963.70" font-size="22" font-weight="bold" fill="#000000" stroke="#000000" stroke-width="0.9" stroke-linejoin="miter" textLength="21.74" lengthAdjust="spacingAndGlyphs">cc</text>
<circle cx="83.9" cy="952.2" r="12.3" fill="#fff" stroke="#000" stroke-width="2.9"/>
<circle cx="115" cy="952.2" r="12.3" fill="#fff" stroke="#000" stroke-width="2.9"/>
<circle cx="146.6" cy="952.2" r="12.3" fill="#fff" stroke="#000" stroke-width="2.9"/>
<circle cx="83.9" cy="945" r="2.1" fill="#000"/>
<path d="M80.1 948.1h7.6v6.5h-1.6v6.7h-4.4v-6.7h-1.6z" fill="#000"/>
<text x="115" y="959.2" font-size="19.5" font-weight="bold" text-anchor="middle" fill="#000" stroke="#000" stroke-width="0.5">$</text>
<path d="M104.3 947.4L126 955.6" stroke="#fff" stroke-width="3.6" fill="none"/>
<path d="M104.3 947.4L126 955.6" stroke="#000" stroke-width="2.7" fill="none"/>
<circle cx="115" cy="952.2" r="12.3" fill="none" stroke="#000" stroke-width="2.9"/>
<path d="M142.6 948.9A5.2 5.2 0 1 1 142.1 954.9" stroke="#000" stroke-width="3.7" fill="none"/>
<path d="M139 949.2h6.8l-3.4 4.2z" fill="#000"/>
<text x="82.75" y="981.5" font-size="11.3" font-weight="bold" text-anchor="middle" fill="#fff" stroke="#fff" stroke-width="0.3">BY</text>
<text x="115" y="981.5" font-size="11.3" font-weight="bold" text-anchor="middle" fill="#fff" stroke="#fff" stroke-width="0.3">NC</text>
<text x="146.4" y="981.5" font-size="11.3" font-weight="bold" text-anchor="middle" fill="#fff" stroke="#fff" stroke-width="0.3">SA</text>
</g>
<text x="177.19" y="968.30" font-size="17.6" font-weight="bold" fill="#000000" stroke="#000000" stroke-width="0.4" stroke-linejoin="miter" textLength="92.80" lengthAdjust="spacingAndGlyphs">SOURCES:</text>
<text x="177.37" y="984.30" font-size="17.5" fill="#5c5c5c" stroke="#ffffff" stroke-width="0.2" textLength="282.83" lengthAdjust="spacingAndGlyphs">Al Jazeera, Agencies, CSIS, 38 North</text>
<text x="780.57" y="988.00" font-size="22.8" font-weight="bold" fill="#f7931e" stroke="#f7931e" stroke-width="1.4" stroke-linejoin="miter" textLength="90.54" lengthAdjust="spacingAndGlyphs">@AJLabs</text>
<g transform="translate(920 910) scale(0.07001)" fill="none" stroke="#686868" stroke-linecap="round" stroke-linejoin="round">
<path d="M420 216C500 300 606 432 658 562C696 662 664 766 584 802C540 820 496 812 464 790C520 784 576 760 600 706C622 650 610 590 572 512C530 430 470 340 408 244Z" fill="#686868" stroke="none"/>
<path d="M432 90C392 120 388 176 422 224" stroke-width="22"/>
<path d="M398 290C430 350 490 430 530 490" stroke-width="26"/>
<path d="M404 240C404 400 360 560 344 700C334 800 354 900 402 926C440 936 450 880 456 800C462 720 520 660 588 580" stroke-width="32"/>
<path d="M384 330C376 420 318 560 298 700C290 780 304 820 336 834" stroke-width="26"/>
<path d="M372 390C270 420 178 500 168 620C162 720 204 818 296 846" stroke-width="30"/>
<circle cx="225" cy="672" r="34" stroke-width="34"/>
<path d="M588 500L498 575" stroke-width="56" stroke-linecap="butt"/>
<path d="M262 500L250 545" stroke-width="18"/>
<path d="M432 530L482 470" stroke-width="18"/>
<path d="M494 846L520 880" stroke-width="16"/>
<path d="M404 600L362 660" stroke-width="44" stroke-linecap="butt"/>
<g fill="#686868" stroke="none">
<path d="M355 274l28 26l-28 26l-28-26z"/>
<path d="M320 321l28 26l-28 26l-28-26z"/>
<path d="M455 606l30 28l-30 28l-30-28z"/>
<path d="M565 678l30 28l-30 28l-30-28z"/>
<path d="M385 766l26 26l-26 26l-26-26z"/>
<path d="M373 826l26 26l-26 26l-26-26z"/>
</g>
</g>

<text x="918.04" y="988.80" font-size="10.6" font-weight="bold" fill="#666666" stroke="#666666" stroke-width="0.6" stroke-linejoin="miter" textLength="61.93" lengthAdjust="spacingAndGlyphs">ALJAZEERA</text>
</svg></body></html>
